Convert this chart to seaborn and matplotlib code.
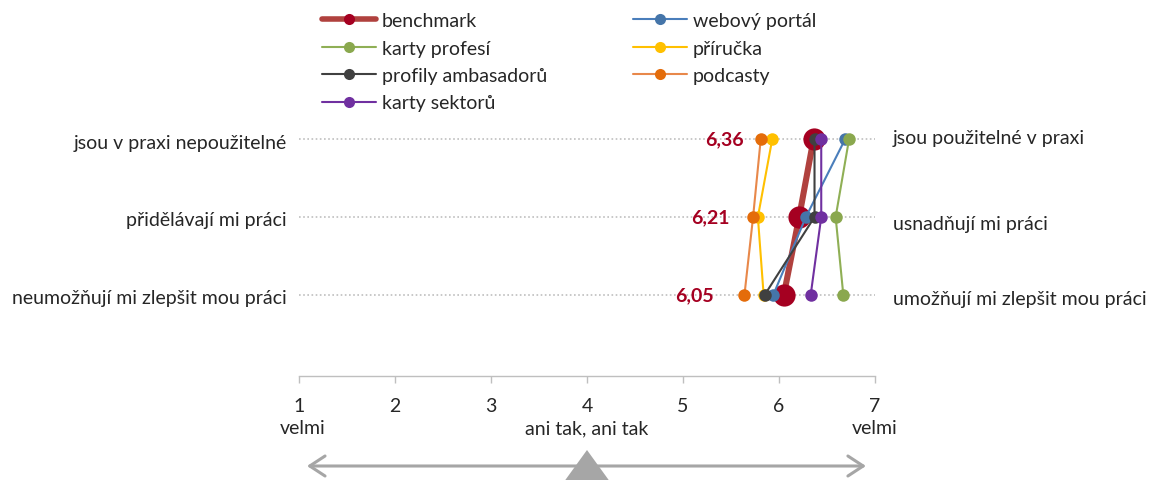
import numpy as np
import pandas as pd
import seaborn as sns
import matplotlib.pyplot as plt
from matplotlib.lines import Line2D
from matplotlib.patches import Polygon

# rows from top to bottom
left_labels = ['jsou v praxi nepoužitelné', 'přidělávají mi práci', 'neumožňují mi zlepšit mou práci']
right_labels = ['jsou použitelné v praxi', 'usnadňují mi práci', 'umožňují mi zlepšit mou práci']
row_pos = [3, 2, 1]

series_names = ['benchmark', 'webový portál', 'karty profesí', 'příručka',
                'profily ambasadorů', 'podcasty', 'karty sektorů']
benchmark = [6.36, 6.21, 6.05]
webovy_portal = [6.69, 6.28, 5.94]
karty_profesi = [6.73, 6.59, 6.67]
prirucka = [5.93, 5.78, 5.84]
profily = [6.37, 6.37, 5.85]
podcasty = [5.81, 5.73, 5.64]
karty_sektoru = [6.44, 6.44, 6.33]
all_values = [benchmark, webovy_portal, karty_profesi, prirucka, profily, podcasty, karty_sektoru]

line_colors = ['#B0413E', '#4A7EBB', '#8FAF55', '#FFC000', '#404040', '#E8884A', '#7030A0']
marker_colors = ['#A50021', '#4575A9', '#8AA84E', '#FFC000', '#404040', '#E46C0A', '#7030A0']

scale_ticks = [1, 2, 3, 4, 5, 6, 7]

sns.set_style('white')
plt.rcParams['font.family'] = ['Lato', 'DejaVu Sans']
fs = 14
txt = '#262626'

fig = plt.figure(figsize=(11.52, 4.81), dpi=100)
ax = fig.add_axes([299 / 1152, 1 - 377 / 481, 576 / 1152, 276 / 481])

for i, name in enumerate(series_names):
    df = pd.DataFrame({'x': all_values[i], 'y': row_pos})
    if name == 'benchmark':
        lw, ms = 4.4, 16
    else:
        lw, ms = 1.5, 9
    sns.lineplot(data=df, x='x', y='y', orient='y', sort=False, ax=ax,
                 color=line_colors[i], linewidth=lw, marker='o', markersize=ms,
                 markerfacecolor=marker_colors[i], markeredgewidth=0,
                 solid_capstyle='round', zorder=3 + i)

# benchmark value labels
for v, y in zip(benchmark, row_pos):
    ax.annotate(f'{v:.2f}'.replace('.', ','), xy=(v, y), xytext=(-70, 0),
                textcoords='offset pixels', ha='right', va='center',
                fontsize=fs, fontweight='bold', color='#A50021')

ax.set_xlim(1, 7)
ax.set_ylim(-0.0385, 3.5)
ax.set_xticks(scale_ticks)
ax.set_yticks(row_pos)
ax.set_yticklabels([])
ax.set_xlabel('')
ax.set_ylabel('')
ax.yaxis.grid(True, linestyle=(0, (1, 1.5)), color='#BFBFBF', linewidth=1.2)
ax.xaxis.grid(False)
for s in ['top', 'left', 'right']:
    ax.spines[s].set_visible(False)
ax.spines['bottom'].set_color('#BFBFBF')
ax.spines['bottom'].set_linewidth(1)
ax.tick_params(axis='x', direction='out', length=5, width=1, color='#BFBFBF',
               labelsize=fs, labelcolor=txt, pad=10, bottom=True)
ax.tick_params(axis='y', length=0)

# side labels
left_y = [2.96, 1.97, 0.97]
right_y = [3.013, 1.923, 0.949]
for lab, y in zip(left_labels, left_y):
    ax.annotate(lab, xy=(0, y), xycoords=('axes fraction', 'data'), xytext=(-12, 0),
                textcoords='offset pixels', ha='right', va='center', fontsize=fs, color=txt)
for lab, y in zip(right_labels, right_y):
    ax.annotate(lab, xy=(1, y), xycoords=('axes fraction', 'data'), xytext=(18, 0),
                textcoords='offset pixels', ha='left', va='center', fontsize=fs, color=txt)

# scale captions
for x, lab in [(1, 'velmi'), (4, 'ani tak, ani tak'), (7, 'velmi')]:
    ax.annotate(lab, xy=(x, 0), xycoords=('data', 'axes fraction'), xytext=(4 if x == 1 else 0, -52),
                textcoords='offset pixels', ha='center', va='center', fontsize=fs, color=txt)

# double arrow and triangle
ax.annotate('', xy=(6.906, -90 / 276), xytext=(1.083, -90 / 276),
            xycoords=('data', 'axes fraction'),
            arrowprops=dict(arrowstyle='<->,head_length=0.55,head_width=0.36',
                            color='#A6A6A6', lw=2.2, mutation_scale=20,
                            shrinkA=0, shrinkB=0))
tri = Polygon([[4, -74 / 276], [4 - 0.226, -104 / 276], [4 + 0.226, -104 / 276]],
              closed=True, transform=ax.get_xaxis_transform(), facecolor='#A6A6A6',
              edgecolor='none', clip_on=False, zorder=5)
ax.add_patch(tri)

# legend (column-major order for two columns)
handles = {}
for i, name in enumerate(series_names):
    lw = 4.0 if name == 'benchmark' else 1.5
    handles[name] = Line2D([], [], color=line_colors[i], lw=lw, marker='o', markersize=8,
                           markerfacecolor=marker_colors[i], markeredgewidth=0,
                           solid_capstyle='round')
order = ['benchmark', 'karty profesí', 'profily ambasadorů', 'karty sektorů',
         'webový portál', 'příručka', 'podcasty']
fig.legend([handles[n] for n in order], order, ncol=2, loc='upper left',
           bbox_to_anchor=(322 / 1152, 1 - 13 / 481), frameon=False, fontsize=fs,
           handlelength=2.78, handletextpad=0.31, columnspacing=4.4,
           labelspacing=0.54, borderpad=0, borderaxespad=0, labelcolor=txt)

fig.savefig('out.png', dpi=100)
